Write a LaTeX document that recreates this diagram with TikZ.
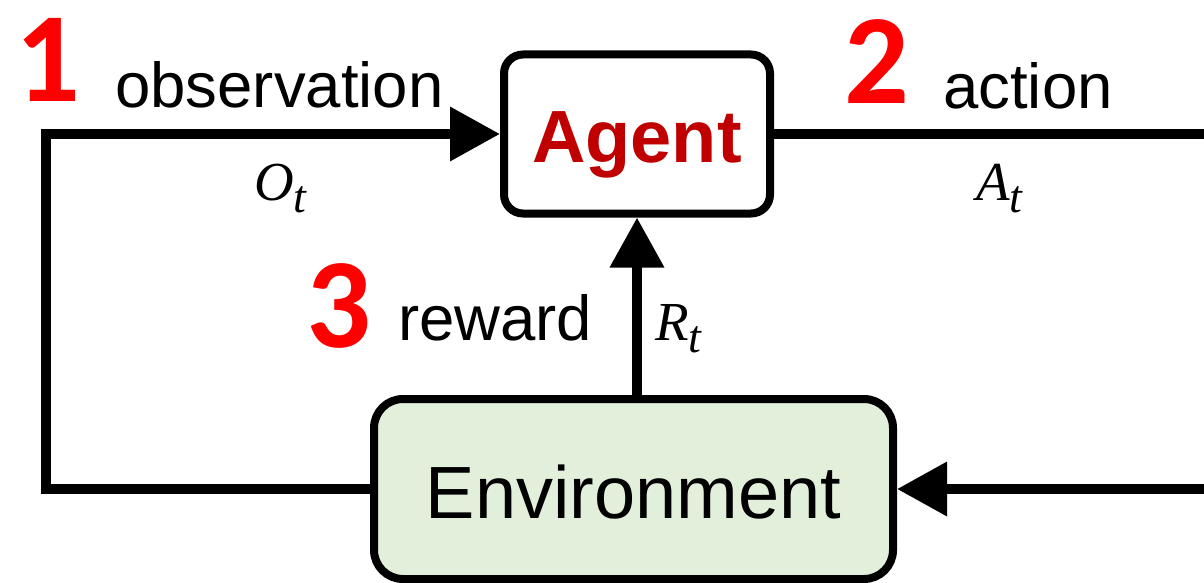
\documentclass[tikz,border=0pt]{standalone}
\usepackage{fontspec}
\setmainfont{Liberation Sans}
\newfontfamily\numfont{Carlito}
\newfontfamily\mathlabfont{Liberation Serif}
\usetikzlibrary{arrows.meta}
\definecolor{agentred}{RGB}{192,0,0}
\definecolor{numred}{RGB}{255,0,0}
\definecolor{envgreen}{RGB}{226,239,218}
\newcommand\mlabtext[2]{#1\raisebox{-12pt}{\fontsize{46}{46}\selectfont #2}}
\begin{document}
\begin{tikzpicture}[x=1pt,y=-1pt,
  box/.style={draw=black, line width=8pt, inner sep=0pt, outer sep=4pt},
  agentbox/.style={box, fill=white, rounded corners=19pt, minimum width=266pt, minimum height=159pt,
    text=agentred, font=\bfseries\fontsize{74}{80}\selectfont, text height=57pt, text depth=0pt},
  envbox/.style={box, fill=envgreen, rounded corners=29pt, minimum width=519pt, minimum height=180pt,
    font=\fontsize{74}{80}\selectfont, text height=59pt, text depth=0pt},
  flow/.style={line width=10pt, draw=black, line join=miter, -{Triangle[length=50pt,width=52pt]}},
  lbl/.style={inner sep=0pt, font=\fontsize{63.5}{70}\selectfont},
  num/.style={inner sep=0pt, text=numred, font=\numfont\bfseries\fontsize{128}{135}\selectfont},
  mlab/.style={inner sep=0pt, font=\mathlabfont\itshape\fontsize{55}{60}\selectfont}
]
\useasboundingbox (0,0) rectangle (1204,583);
\clip (0,0) rectangle (1204,583);
\coordinate (leftx) at (46,0);
\coordinate (rightx) at (1260,0);
\node[agentbox] (agent) at (637,134) {Agent};
\node[envbox] (env) at (633.5,489) {Environment};
\draw[flow] (env.west) -- (leftx |- env.west) -- (leftx |- agent.west) -- (agent.west);
\draw[flow] (agent.east) -- (rightx |- agent.east) -- (rightx |- env.east) -- (env.east);
\draw[flow] (agent.south |- env.north) -- (agent.south);
\node[lbl, anchor=base west] (obs) at (115,108) {observation};
\node[lbl, anchor=base west] (act) at (943,108.5) {action};
\node[lbl, anchor=base west] (rew) at (398,340) {reward};
\node[num, anchor=base] (n1) at (48,102) {1};
\node[num, anchor=base] (n2) at (877,104) {2};
\node[num, anchor=base] (n3) at (338.5,347) {3};
\node[mlab, anchor=base west] (ot) at (254,200) {\mlabtext{O}{t}};
\node[mlab, anchor=base west] (at) at (976,200) {\mlabtext{A}{t}};
\node[mlab, anchor=base west] (rt) at (655,340) {\mlabtext{R}{t}};
\end{tikzpicture}
\end{document}
